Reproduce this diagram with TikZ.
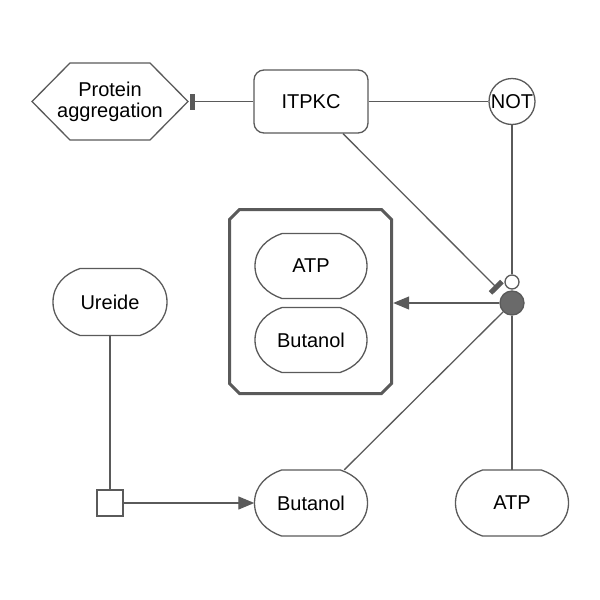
\documentclass[tikz,border=0pt]{standalone}
\usepackage{fontspec}
\setmainfont{Liberation Sans}
\usetikzlibrary{arrows.meta}
\definecolor{lc}{HTML}{5A5A5A}
\definecolor{gc}{HTML}{6A6A6A}
\tikzset{
  ln/.style={draw=lc, line width=1.3pt},
  ent/.style={draw=lc, line width=1.3pt, fill=white},
  txt/.style={font=\fontsize{20}{21}\selectfont, align=center, inner sep=0pt, text=black},
  prodtip/.style={-{Triangle[length=16pt,width=13pt,fill=lc]}},
  inhtip/.style={-{Rectangle[length=5pt,width=16pt,fill=lc]}},
}
\newcommand\stadiumnode[6]{%
  \draw[ent] (#2-#4/2+27,#3-#5/2) -- (#2+#4/2-27,#3-#5/2)
    .. controls (#2+#4/2-12.5,#3-#5/2+#5*0.075) and (#2+#4/2,#3-#5*0.26) .. (#2+#4/2,#3)
    .. controls (#2+#4/2,#3+#5*0.26) and (#2+#4/2-12.5,#3+#5/2-#5*0.075) .. (#2+#4/2-27,#3+#5/2)
    -- (#2-#4/2+27,#3+#5/2)
    .. controls (#2-#4/2+12.5,#3+#5/2-#5*0.075) and (#2-#4/2,#3+#5*0.26) .. (#2-#4/2,#3)
    .. controls (#2-#4/2,#3-#5*0.26) and (#2-#4/2+12.5,#3-#5/2+#5*0.075) .. cycle;
  \node[txt,minimum width=#4,minimum height=#5] (#1) at (#2,#3) {#6};
}
\begin{document}
\begin{tikzpicture}[x=1pt,y=-1pt]
\fill[white] (0,0) rectangle (600,600);
\useasboundingbox (0,0) rectangle (600,600);

% Protein aggregation (phenotype)
\draw[ent] (32,101.5) -- (70,63) -- (150,63) -- (188,101.5) -- (150,140) -- (70,140) -- cycle;
\node[txt, minimum width=160pt, minimum height=77pt] (hex) at (110,101.5) {Protein\\aggregation};

% ITPKC
\node[ent, txt, rounded corners=10pt, minimum width=114pt, minimum height=63pt] (itpkc) at (311,101.5) {ITPKC};

% NOT
\node[ent, txt, circle, minimum size=46pt] (not) at (512,101.5) {NOT};

% complex
\draw[draw=lc, fill=white, line width=3pt] (239.5,209.5) -- (381.5,209.5) -- (391.5,219.5) -- (391.5,383.5) -- (381.5,393.5) -- (239.5,393.5) -- (229.5,383.5) -- (229.5,219.5) -- cycle;
\node[minimum width=165pt, minimum height=187pt, inner sep=0pt] (cplx) at (310.5,301.5) {};
\stadiumnode{atpc}{311}{266}{112}{65}{ATP}
\stadiumnode{butc}{311}{340}{112}{65}{Butanol}

% Ureide, process, Butanol, ATP
\stadiumnode{ureide}{110}{302}{114}{67}{Ureide}
\node[ent, minimum size=26pt, inner sep=0pt] (proc) at (110,503) {};
\stadiumnode{but2}{311}{503}{113}{66}{Butanol}
\stadiumnode{atp2}{512}{503}{113}{66}{ATP}

% association and catalysis ring
\node[draw=lc, line width=1.3pt, fill=gc, circle, minimum size=24pt, inner sep=0pt] (assoc) at (512,303) {};
\node[ent, circle, minimum size=14pt, inner sep=0pt] (catc) at (512,282) {};
\coordinate (inh) at (498,289);

% connectors
\draw[ln] (itpkc) -- (not);
\draw[ln, inhtip] (itpkc) -- (hex);
\draw[ln] (not) -- (catc);
\draw[ln, inhtip] (itpkc) -- (inh);
\draw[ln, prodtip] (assoc) -- (assoc -| cplx.east);
\draw[ln] (assoc) -- (atp2);
\draw[ln] (assoc) -- (but2);
\draw[ln] (ureide) -- (proc);
\draw[ln, prodtip] (proc) -- (but2);
\end{tikzpicture}
\end{document}
